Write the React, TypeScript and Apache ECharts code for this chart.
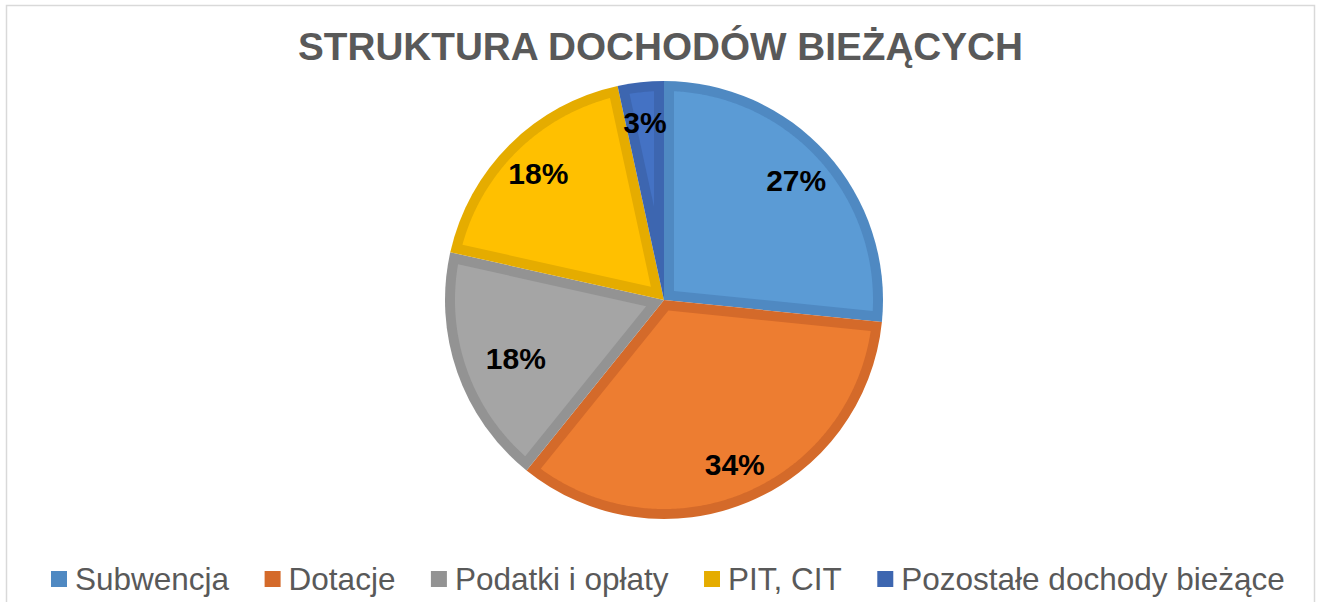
import React, { useEffect, useRef } from 'react';
import * as echarts from 'echarts';

const titleText = 'STRUKTURA DOCHODÓW BIEŻĄCYCH';
const categories = ['Subwencja', 'Dotacje', 'Podatki i opłaty', 'PIT, CIT', 'Pozostałe dochody bieżące'];
const values = [26.6, 34.2, 17.7, 18.1, 3.4];
const fillColors = ['#5B9BD5', '#ED7D31', '#A5A5A5', '#FFC000', '#4472C4'];
const edgeColors = ['#4F89C2', '#D46A2A', '#939393', '#E5AC00', '#3D66B0'];

const CX = 664;
const CY = 300;
const R = 219;
const INSET = 10;
const FONT = "'Liberation Sans', Arial, sans-serif";

const total = values.reduce((a, b) => a + b, 0);
const sliceBounds: number[][] = [];
{
  let acc = 0;
  values.forEach((v, i) => {
    sliceBounds.push([acc / total, (acc + v) / total, i]);
    acc += v;
  });
}

function insetPoints(a: number, b: number): number[][] {
  const t = INSET;
  const Ri = R - t;
  const theta = b - a;
  const m = (a + b) / 2;
  const d = t / Math.sin(theta / 2);
  const P = (r: number, phi: number) => [CX + r * Math.sin(phi), CY - r * Math.cos(phi)];
  const pts: number[][] = [];
  pts.push(P(d, m));
  const delta = Math.asin(t / Ri);
  const a1 = a + delta;
  const b1 = b - delta;
  const N = Math.max(2, Math.ceil((b1 - a1) / (Math.PI / 360)));
  for (let k = 0; k <= N; k++) pts.push(P(Ri, a1 + ((b1 - a1) * k) / N));
  return pts;
}

const labelPadding: Record<number, number[]> = {
  1: [10, 0, 0, 4],
  2: [0, 0, 0, 40],
  4: [0, 0, 30, 0],
};

export default function App() {
  const ref = useRef<HTMLDivElement>(null);
  useEffect(() => {
    document.body.style.margin = '0';
    if (!ref.current) return;
    const chart = echarts.init(ref.current, undefined, { renderer: 'svg' });
    chart.setOption({
      animation: false,
      backgroundColor: '#ffffff',
      title: {
        text: titleText,
        left: 'center',
        top: 22,
        textStyle: {
          fontFamily: FONT,
          fontSize: 38.7,
          fontWeight: 'bold',
          color: '#595959',
        },
      },
      graphic: [
        {
          type: 'rect',
          shape: { x: 6.5, y: 5.5, width: 1308, height: 700 },
          style: { fill: 'none', stroke: '#d9d9d9', lineWidth: 1.5 },
          silent: true,
          z: -10,
        },
      ],
      legend: {
        left: 46,
        top: 558,
        icon: 'rect',
        itemWidth: 16,
        itemHeight: 16,
        itemGap: 35.5,
        selectedMode: false,
        data: categories.map((n, i) => ({ name: n, itemStyle: { color: edgeColors[i] } })),
        textStyle: {
          fontFamily: FONT,
          fontSize: 31.5,
          color: '#595959',
          padding: [0, 0, 0, 3],
        },
      },
      series: [
        {
          type: 'pie',
          name: 'base',
          center: [CX, CY],
          radius: [0, R],
          startAngle: 90,
          clockwise: true,
          silent: true,
          z: 1,
          label: { show: false },
          labelLine: { show: false },
          emphasis: { disabled: true },
          data: categories.map((n, i) => ({ name: n, value: values[i], itemStyle: { color: edgeColors[i] } })),
        },
        {
          type: 'custom',
          coordinateSystem: 'none',
          silent: true,
          z: 2,
          data: sliceBounds,
          renderItem: (params: any, api: any) => {
            const s = api.value(0) * Math.PI * 2;
            const e = api.value(1) * Math.PI * 2;
            const idx = api.value(2);
            return {
              type: 'polygon',
              shape: { points: insetPoints(s, e) },
              style: { fill: fillColors[idx], stroke: 'none' },
            };
          },
        },
        {
          type: 'pie',
          name: 'labels',
          center: [CX, CY],
          radius: [R * 0.6, R],
          startAngle: 90,
          clockwise: true,
          silent: true,
          legendHoverLink: false,
          z: 3,
          avoidLabelOverlap: false,
          itemStyle: { color: 'rgba(0,0,0,0)' },
          labelLine: { show: false },
          emphasis: { disabled: true },
          label: {
            show: true,
            position: 'inside',
            formatter: (p: any) => Math.round(p.percent) + '%',
            fontFamily: FONT,
            fontSize: 30,
            fontWeight: 'bold',
            color: '#000000',
          },
          data: categories.map((n, i) => ({
            name: n,
            value: values[i],
            itemStyle: { color: 'rgba(0,0,0,0)' },
            label: labelPadding[i] ? { padding: labelPadding[i] } : {},
          })),
        },
      ],
    });
    return () => chart.dispose();
  }, []);
  return <div ref={ref} style={{ width: 1321, height: 602 }} />;
}
